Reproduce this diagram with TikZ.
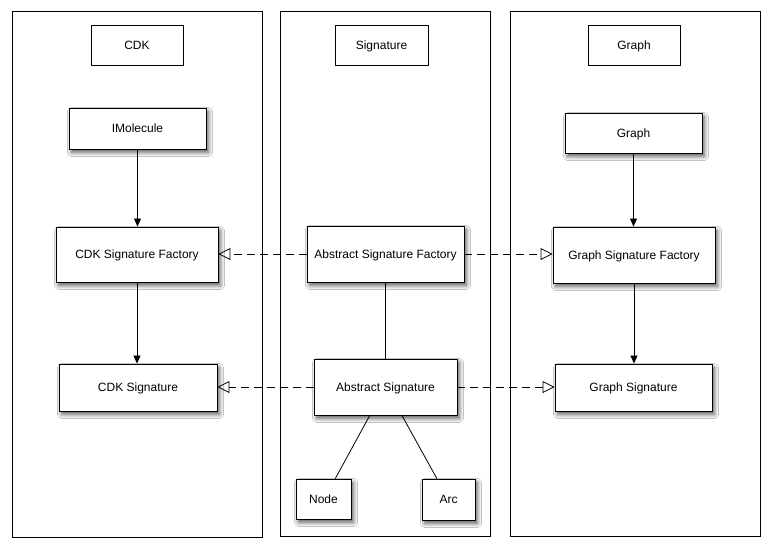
\documentclass[tikz,border=0pt]{standalone}
\usepackage{fontspec}
\setmainfont{Liberation Sans}
\usetikzlibrary{arrows.meta,shadows.blur}
\begin{document}
\begin{tikzpicture}[x=1pt,y=-1pt,
  every node/.style={font=\fontsize{12}{14}\selectfont, inner sep=0pt, text height=8.6pt, text depth=0pt},
  panel/.style={draw, line width=0.9pt, fill=white},
  title/.style={draw, line width=0.9pt, fill=white},
  cls/.style={draw, line width=0.9pt, fill=white,
    blur shadow={shadow xshift=2.5pt, shadow yshift=-3.5pt, shadow blur radius=4pt, shadow blur steps=8, shadow opacity=65}},
  solidarr/.style={line width=0.8pt, -{Triangle[length=8pt,width=7pt]}},
  realize/.style={line width=0.8pt, dash pattern=on 8pt off 5pt, -{Triangle[open,length=12pt,width=12pt,line width=0.8pt]}},
  plain/.style={line width=0.8pt}]
\useasboundingbox (0,0) rectangle (771,547);
\fill[white] (0,0) rectangle (771,547);
% panels
\node[panel, minimum width=250pt, minimum height=526pt] (pcdk) at (137,274) {};
\node[panel, minimum width=209.5pt, minimum height=525pt] (psig) at (385.25,273.5) {};
\node[panel, minimum width=250pt, minimum height=525pt] (pgraph) at (635,273.5) {};
% titles
\node[title, minimum width=92pt, minimum height=40pt] (tcdk) at (137,45) {CDK};
\node[title, minimum width=93pt, minimum height=40pt] (tsig) at (381.5,45) {Signature};
\node[title, minimum width=92pt, minimum height=40pt] (tgraph) at (634,45) {Graph};
% CDK column
\node[cls, minimum width=137pt, minimum height=41pt] (imol) at (137.5,128.5) {IMolecule};
\node[cls, minimum width=162pt, minimum height=55pt] (cdksf) at (137,254.5) {CDK Signature Factory};
\node[cls, minimum width=158pt, minimum height=47pt] (cdks) at (138,387.5) {CDK Signature};
% Signature column
\node[cls, minimum width=157pt, minimum height=56pt] (asf) at (385.5,254) {Abstract Signature Factory};
\node[cls, minimum width=143pt, minimum height=56pt] (as) at (385.5,387) {Abstract Signature};
\node[cls, minimum width=55pt, minimum height=40pt] (nd) at (323.5,499) {Node};
\node[cls, minimum width=53pt, minimum height=41pt] (arc) at (448.5,499.5) {Arc};
% Graph column
\node[cls, minimum width=137pt, minimum height=40pt] (gr) at (633.5,133) {Graph};
\node[cls, minimum width=162pt, minimum height=56pt] (gsf) at (634,255) {Graph Signature Factory};
\node[cls, minimum width=157pt, minimum height=47pt] (gs) at (633.5,387.5) {Graph Signature};
% connectors
\draw[solidarr] (imol.south) -- (imol.south |- cdksf.north);
\draw[solidarr] (cdksf.south) -- (cdksf.south |- cdks.north);
\draw[solidarr] (gr.south) -- (gr.south |- gsf.north);
\draw[solidarr] (gsf.south) -- (gsf.south |- gs.north);
\draw[plain] (asf.south) -- (as.north);
\draw[plain] (as.241) -- (nd.60);
\draw[plain] (as.300.5) -- (arc.119);
\draw[realize] (asf.west) -- (asf.west -| cdksf.east);
\draw[realize] (asf.east) -- (asf.east -| gsf.west);
\draw[realize] (as.west) -- (as.west -| cdks.east);
\draw[realize] (as.east) -- (as.east -| gs.west);
\end{tikzpicture}
\end{document}
